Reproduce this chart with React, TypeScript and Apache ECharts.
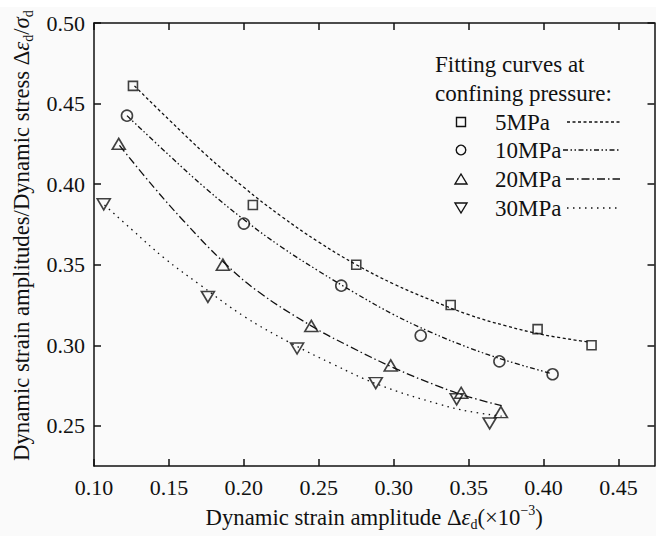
import React, { useEffect, useRef } from 'react';
import * as echarts from 'echarts';

const FONT = 'Liberation Serif';

// tick labels
const xTicks = [0.1, 0.15, 0.2, 0.25, 0.3, 0.35, 0.4, 0.45];
const yTicks = [0.25, 0.3, 0.35, 0.4, 0.45, 0.5];

// measured points
const p5x = [0.126, 0.206, 0.275, 0.338, 0.396, 0.432];
const p5y = [0.461, 0.387, 0.35, 0.325, 0.31, 0.3];
const p10x = [0.122, 0.2, 0.265, 0.318, 0.3705, 0.406];
const p10y = [0.4425, 0.3755, 0.337, 0.306, 0.29, 0.282];
const p20x = [0.1165, 0.186, 0.245, 0.298, 0.345, 0.3715];
const p20y = [0.425, 0.35, 0.312, 0.2875, 0.2705, 0.2585];
const p30x = [0.1065, 0.176, 0.2355, 0.288, 0.342, 0.364];
const p30y = [0.3875, 0.33, 0.298, 0.2765, 0.2665, 0.2515];

// fitting curves
const c5x = [0.127, 0.15, 0.175, 0.2, 0.225, 0.25, 0.275, 0.3, 0.325, 0.35, 0.375, 0.4, 0.43];
const c5y = [0.461, 0.44, 0.418, 0.398, 0.38, 0.364, 0.35, 0.338, 0.328, 0.319, 0.312, 0.3065, 0.302];
const c10x = [0.122, 0.15, 0.175, 0.2, 0.225, 0.25, 0.275, 0.3, 0.325, 0.35, 0.375, 0.405];
const c10y = [0.4425, 0.418, 0.397, 0.378, 0.361, 0.346, 0.332, 0.319, 0.308, 0.2985, 0.2905, 0.2825];
const c20x = [0.117, 0.14, 0.16, 0.186, 0.21, 0.245, 0.27, 0.3, 0.33, 0.35, 0.372];
const c20y = [0.424, 0.398, 0.377, 0.352, 0.333, 0.312, 0.2995, 0.286, 0.2745, 0.268, 0.2625];
const c30x = [0.107, 0.125, 0.147, 0.17, 0.2, 0.23, 0.26, 0.29, 0.33, 0.35, 0.372];
const c30y = [0.387, 0.372, 0.354, 0.338, 0.318, 0.302, 0.288, 0.2755, 0.2635, 0.259, 0.256];

const seriesNames = ['5MPa', '10MPa', '20MPa', '30MPa'];

const zip = (xs: number[], ys: number[]) => xs.map((x, i) => [x, ys[i]]);

const INK = '#111';
const DASH5 = [3, 2.5];
const DASH10 = [5, 2.5, 1.5, 2.5, 1.5, 2.5];
const DASH20 = [8, 3, 1.5, 3];
const DASH30 = [1.5, 4.5];
const DOWN_TRI = 'path://M0,0L13,0L6.5,11Z';

const FS = 22.7;
const rich = {
  n: { fontSize: FS, fontFamily: FONT, color: INK, lineHeight: 28 },
  i: { fontSize: FS, fontFamily: FONT, color: INK, fontStyle: 'italic', lineHeight: 28 },
  s: { fontSize: 14, fontFamily: FONT, color: INK, verticalAlign: 'bottom', lineHeight: 16 },
  sup: { fontSize: 14, fontFamily: FONT, color: INK, verticalAlign: 'top', lineHeight: 16 },
};

const xName = '{n|Dynamic strain amplitude Δ}{i|ε}{s|d}{n|(×10}{sup|−3}{n|)}';
const yName = '{n|Dynamic strain amplitudes/Dynamic stress Δ}{i|ε}{s|d}{n|/}{i|σ}{s|d}';

const axisLine = { show: true, lineStyle: { color: INK, width: 1.5 } };
const tickStyle = { color: INK, width: 1.5 };
const labelStyle = { fontSize: 22, fontFamily: FONT, color: INK };
const fmt = (v: number) => v.toFixed(2);

function scatter(name: string, xs: number[], ys: number[], symbol: string, size: any) {
  return {
    type: 'scatter',
    name,
    data: zip(xs, ys),
    symbol,
    symbolSize: size,
    symbolKeepAspect: false,
    itemStyle: { color: 'rgba(0,0,0,0)', borderColor: INK, borderWidth: 1.6 },
    z: 3,
  };
}
function curve(name: string, xs: number[], ys: number[], dash: number[]) {
  return {
    type: 'line',
    name: name + ' fit',
    data: zip(xs, ys),
    smooth: 0.4,
    showSymbol: false,
    symbol: 'none',
    lineStyle: { color: INK, width: 1.3, type: dash },
    z: 2,
  };
}

const legendRows = [
  { label: seriesNames[0], y: 122, dash: DASH5, x1: 567 },
  { label: seriesNames[1], y: 150, dash: DASH10, x1: 563 },
  { label: seriesNames[2], y: 179, dash: DASH20, x1: 566 },
  { label: seriesNames[3], y: 208, dash: DASH30, x1: 567 },
];

function txt(text: string, x: number, y: number) {
  return {
    type: 'text',
    x,
    y,
    style: { text, fontSize: 23, fontFamily: FONT, fill: INK, verticalAlign: 'middle', align: 'left' },
  };
}

function legendGraphics() {
  const g: any[] = [];
  g.push(txt('Fitting curves at', 435, 64));
  g.push(txt('confining pressure:', 435, 93));
  legendRows.forEach((r) => {
    g.push(txt(r.label, 495, r.y));
    g.push({ type: 'line', shape: { x1: r.x1, y1: r.y, x2: 620, y2: r.y }, style: { stroke: INK, lineWidth: 1.3, lineDash: r.dash } });
  });
  const ms = { fill: 'none', stroke: INK, lineWidth: 1.4 };
  g.push({ type: 'rect', shape: { x: 456.5, y: 117.5, width: 9, height: 9 }, style: ms });
  g.push({ type: 'circle', shape: { cx: 461, cy: 150, r: 4.8 }, style: ms });
  g.push({ type: 'polygon', shape: { points: [[455, 184], [467, 184], [461, 174]] }, style: ms });
  g.push({ type: 'polygon', shape: { points: [[455, 203], [467, 203], [461, 213]] }, style: ms });
  return g;
}

export default function App() {
  const ref = useRef<HTMLDivElement>(null);
  useEffect(() => {
    const chart = echarts.init(ref.current!, null, { renderer: 'svg' });
    const option: any = {
      animation: false,
      backgroundColor: '#fafafa',
      textStyle: { fontFamily: FONT },
      grid: { left: 94, right: 1.5, top: 23, bottom: 61, containLabel: false },
      xAxis: [
        {
          type: 'value',
          min: 0.1,
          max: 0.474,
          position: 'bottom',
          axisLine,
          axisTick: { show: true, inside: true, length: 7, lineStyle: tickStyle, customValues: xTicks },
          axisLabel: { ...labelStyle, margin: 10, customValues: xTicks, formatter: fmt },
          splitLine: { show: false },
          name: xName,
          nameLocation: 'middle',
          nameGap: 33,
          nameTextStyle: { ...labelStyle, rich },
        },
        {
          type: 'value',
          min: 0.1,
          max: 0.474,
          position: 'top',
          axisLine,
          axisTick: { show: true, inside: true, length: 7, lineStyle: tickStyle, customValues: xTicks },
          axisLabel: { show: false },
          splitLine: { show: false },
        },
      ],
      yAxis: [
        {
          type: 'value',
          min: 0.225,
          max: 0.5,
          position: 'left',
          axisLine,
          axisTick: { show: true, inside: true, length: 7, lineStyle: tickStyle, customValues: yTicks },
          axisLabel: { ...labelStyle, margin: 9, customValues: yTicks, formatter: fmt },
          splitLine: { show: false },
          name: yName,
          nameLocation: 'middle',
          nameGap: 42,
          nameRotate: 90,
          nameTextStyle: { ...labelStyle, rich, padding: [0, 0, 0, 18] },
        },
        {
          type: 'value',
          min: 0.225,
          max: 0.5,
          position: 'right',
          axisLine,
          axisTick: { show: true, inside: true, length: 7, lineStyle: tickStyle, customValues: yTicks },
          axisLabel: { show: false },
          splitLine: { show: false },
        },
      ],
      series: [
        curve(seriesNames[0], c5x, c5y, DASH5),
        curve(seriesNames[1], c10x, c10y, DASH10),
        curve(seriesNames[2], c20x, c20y, DASH20),
        curve(seriesNames[3], c30x, c30y, DASH30),
        scatter(seriesNames[0], p5x, p5y, 'rect', 9),
        scatter(seriesNames[1], p10x, p10y, 'circle', 11),
        scatter(seriesNames[2], p20x, p20y, 'triangle', [13, 11]),
        scatter(seriesNames[3], p30x, p30y, DOWN_TRI, [13, 11]),
      ],
      graphic: [
        { type: 'rect', shape: { x: 0, y: 0, width: 656, height: 7 }, style: { fill: '#ffffff' }, z: -10, silent: true },
        ...legendGraphics(),
      ],
    };
    chart.setOption(option);
    return () => chart.dispose();
  }, []);
  return <div ref={ref} style={{ position: 'fixed', left: 0, top: 0, width: 656, height: 536 }} />;
}
